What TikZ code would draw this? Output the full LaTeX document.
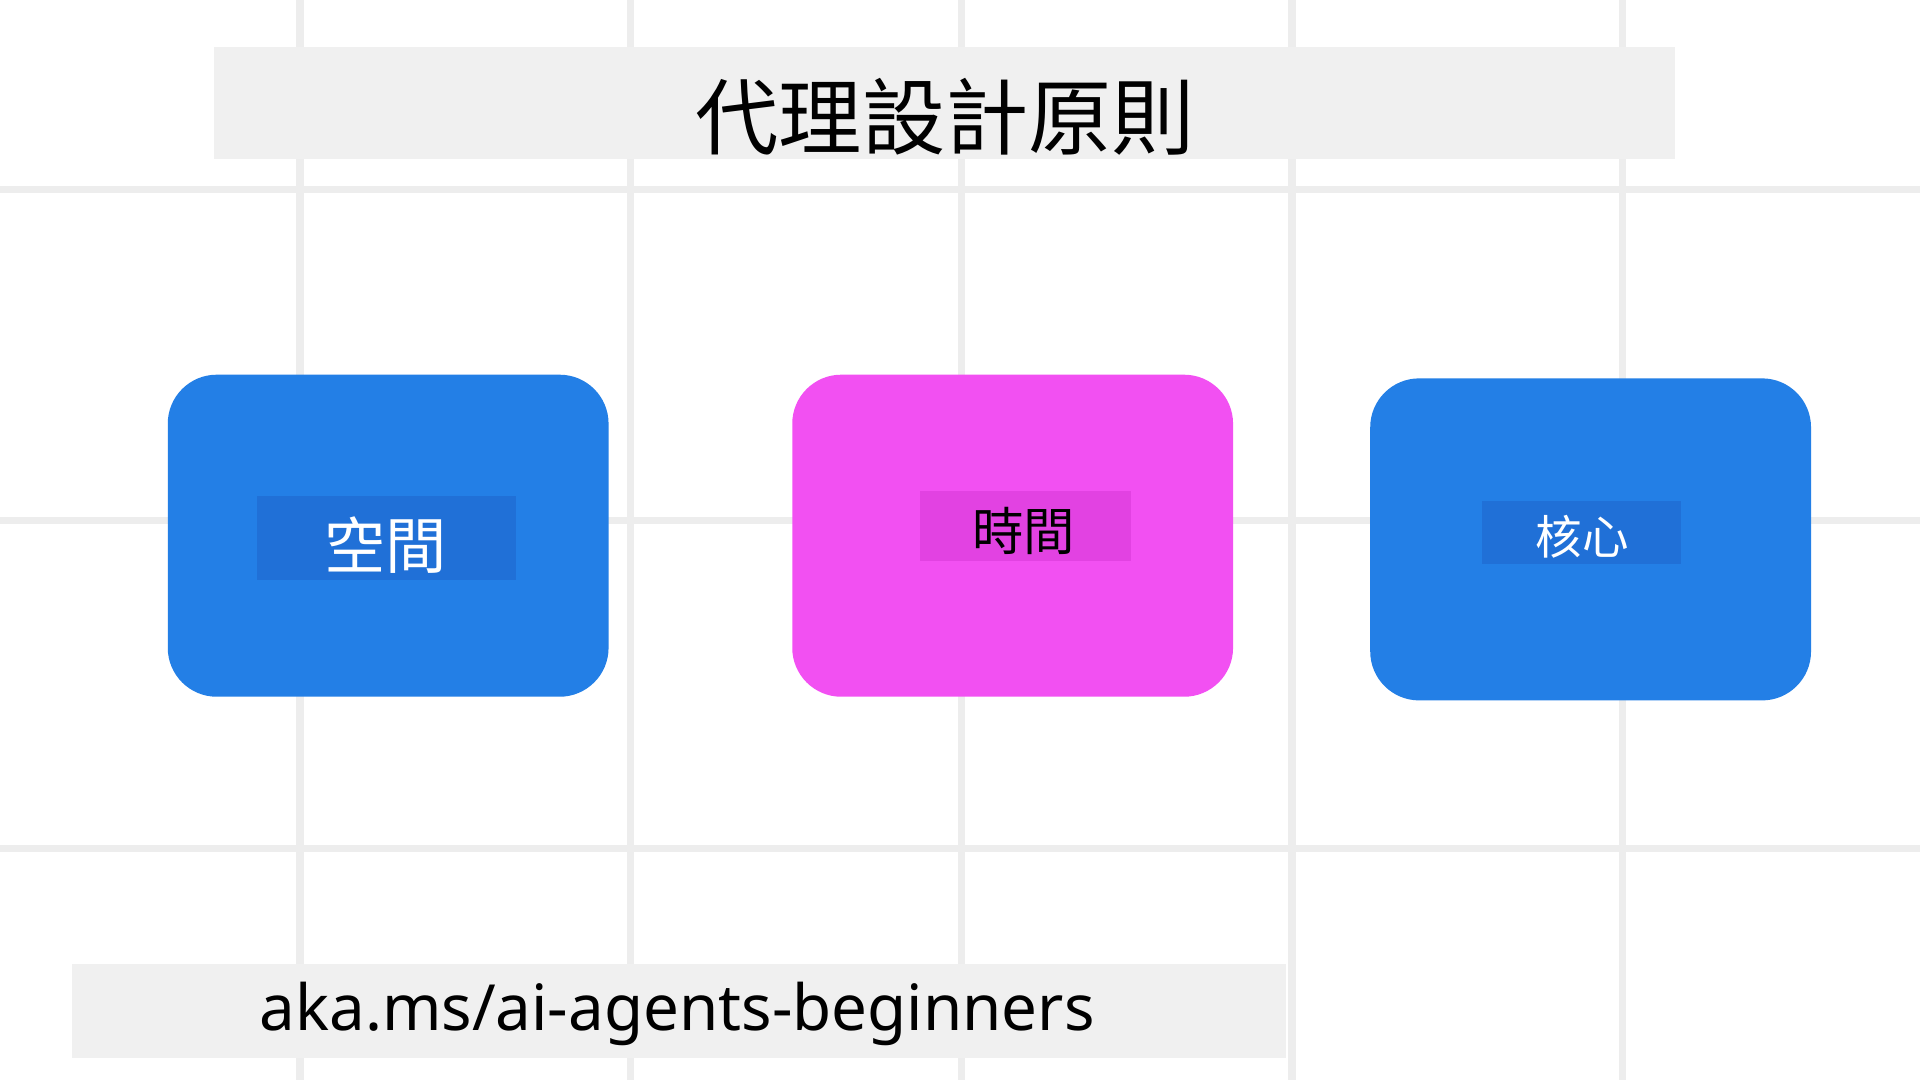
\documentclass[tikz,border=0pt]{standalone}
\usepackage{fontspec}
\setmainfont{Noto Sans}
\newfontfamily\cjk{Noto Sans CJK TC}
\definecolor{cblue}{RGB}{35,127,230}
\definecolor{cpink}{RGB}{242,80,242}
\definecolor{dblue}{RGB}{32,112,215}
\definecolor{dpink}{RGB}{226,66,226}
\begin{document}
\begin{tikzpicture}[x=1pt,y=-1pt,
  grid/.style={draw=black!7,line width=6pt},
  card/.style={rounded corners=40pt},
  lbl/.style={inner sep=0pt}]
\useasboundingbox (0,0) rectangle (1568,882);
\fill[white] (0,0) rectangle (1568,882);
\foreach \x in {245,515,785,1055,1325} \draw[grid] (\x,0) -- (\x,882);
\foreach \y in {155,425,693} \draw[grid] (0,\y) -- (1568,\y);
\fill[black!6] (175,38) rectangle (1368,130);
\node[lbl] (title) at (772,95) {\cjk\fontsize{68}{80}\selectfont 代理設計原則};
\fill[card,fill=cblue] (137,306) rectangle (497,569);
\fill[card,fill=cpink] (647,306) rectangle (1007,569);
\fill[card,fill=cblue] (1119,309) rectangle (1479,572);
\fill[dblue] (210,405) rectangle (421,474);
\fill[dpink] (751,401) rectangle (924,458);
\fill[dblue] (1210,409) rectangle (1373,461);
\node[lbl,text=white] (a) at (315,445) {\cjk\fontsize{50}{60}\selectfont 空間};
\node[lbl,text=black] (b) at (836,434) {\cjk\fontsize{42}{50}\selectfont 時間};
\node[lbl,text=white] (c) at (1292,438) {\cjk\fontsize{38}{46}\selectfont 核心};
\fill[black!6] (59,787) rectangle (1050,864);
\node[lbl] (url) at (553,828) {\fontsize{52}{60}\selectfont aka.ms/ai-agents-beginners};
\end{tikzpicture}
\end{document}
